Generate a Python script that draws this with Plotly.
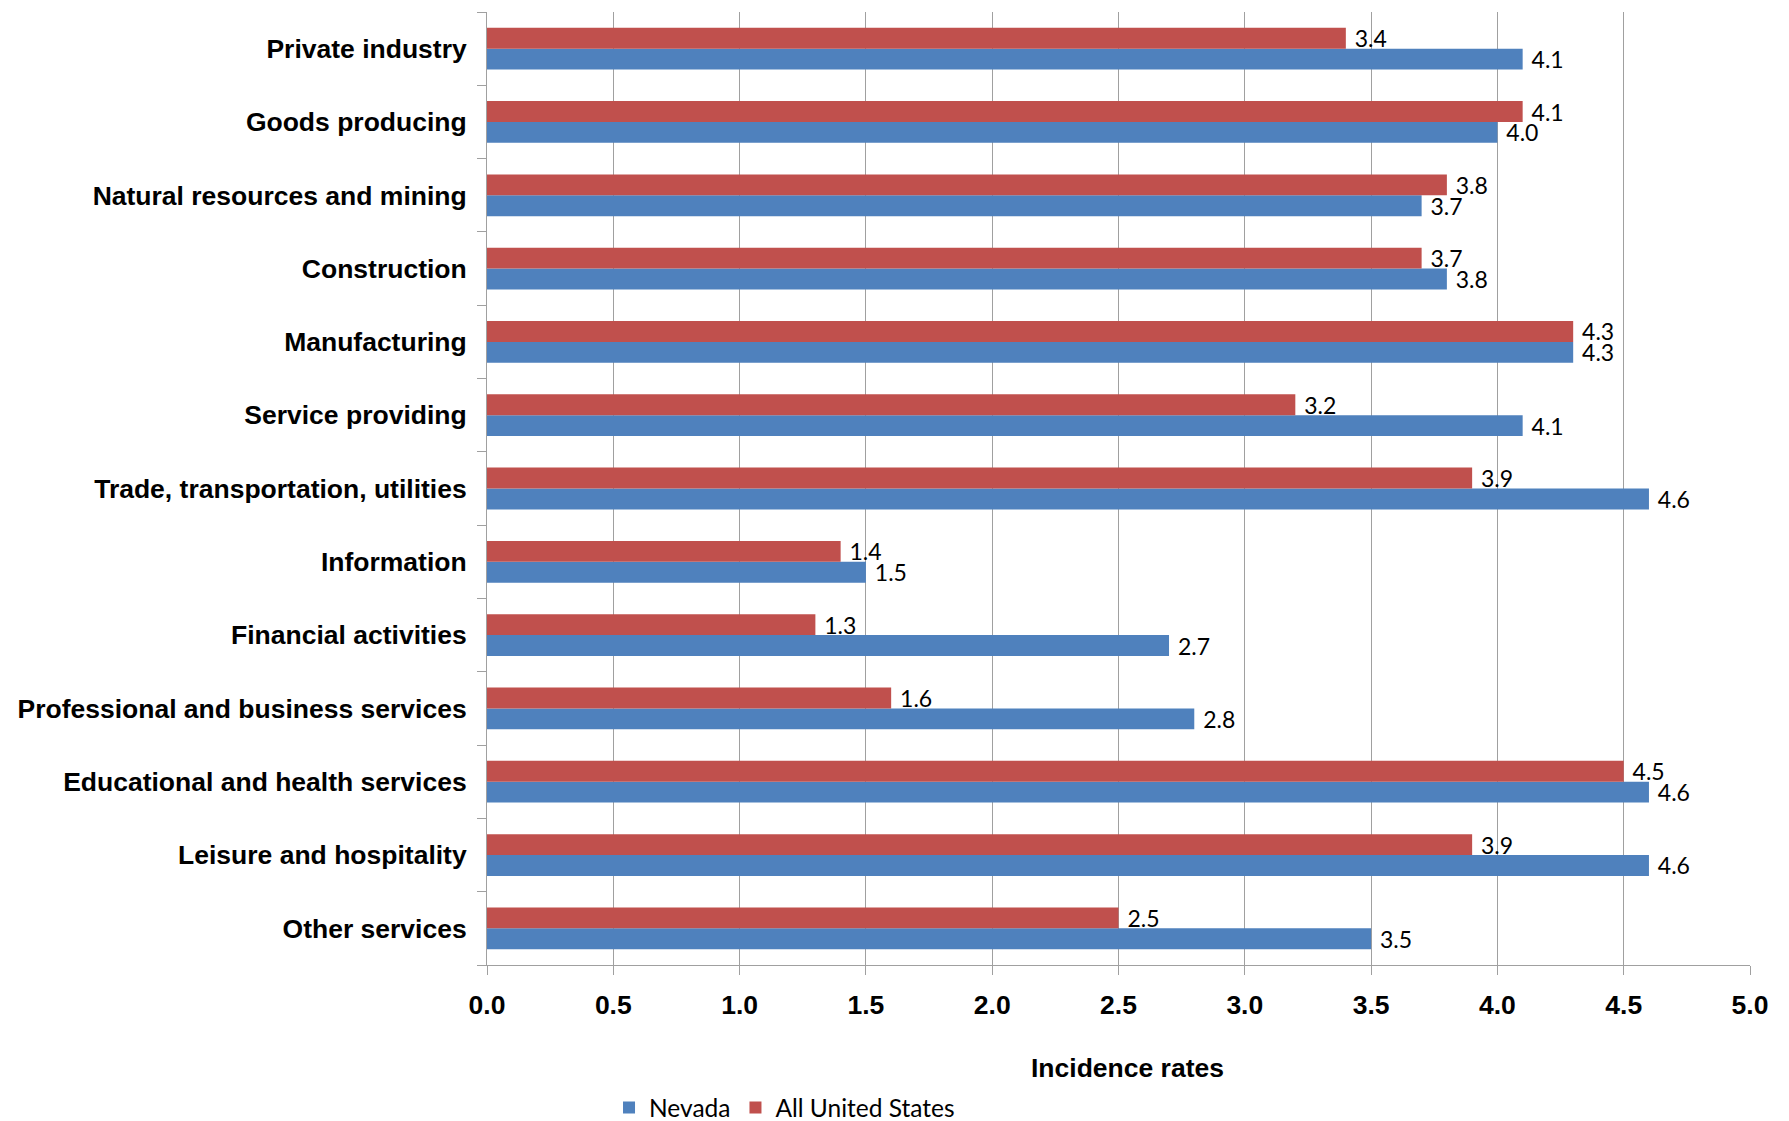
import plotly.graph_objects as go

categories = [
    "Private industry",
    "Goods producing",
    "Natural resources and mining",
    "Construction",
    "Manufacturing",
    "Service providing",
    "Trade, transportation, utilities",
    "Information",
    "Financial activities",
    "Professional and business services",
    "Educational and health services",
    "Leisure and hospitality",
    "Other services",
]
nevada = [4.1, 4.0, 3.7, 3.8, 4.3, 4.1, 4.6, 1.5, 2.7, 2.8, 4.6, 4.6, 3.5]
all_us = [3.4, 4.1, 3.8, 3.7, 4.3, 3.2, 3.9, 1.4, 1.3, 1.6, 4.5, 3.9, 2.5]
x_ticks = [0.0, 0.5, 1.0, 1.5, 2.0, 2.5, 3.0, 3.5, 4.0, 4.5, 5.0]
x_title = "Incidence rates"

BLUE = "#4F81BD"
RED = "#C0504D"
GRID = "#A0A0A0"
LABEL_FONT = dict(family="Lato", size=23, color="#000000")
BOLD_FONT = dict(family="Liberation Sans", size=26.5, color="#000000", weight="bold")

fig = go.Figure()
for name, vals, col in [("Nevada", nevada, BLUE), ("All United States", all_us, RED)]:
    fig.add_trace(go.Bar(
        y=categories, x=vals, name=name, orientation="h",
        marker=dict(color=col, line=dict(width=0)),
        texttemplate="\u00a0%{x:.1f}", textposition="outside",
        textfont=LABEL_FONT, constraintext="none", cliponaxis=False,
    ))

fig.update_layout(
    width=1781, height=1113,
    paper_bgcolor="white", plot_bgcolor="white",
    margin=dict(l=479, r=39, t=4, b=156),
    barmode="group", bargap=0.43, bargroupgap=0,
    showlegend=True,
    legend=dict(orientation="h", xref="container", yref="container",
                x=0.436, y=0.012, xanchor="center", yanchor="middle",
                font=dict(family="Lato", size=24.5, color="#000000"),
                itemwidth=30, tracegroupgap=0),
    xaxis=dict(
        range=[0, 5], tickvals=x_ticks, ticktext=[f"{v:.1f}" for v in x_ticks],
        showgrid=True, gridcolor=GRID, gridwidth=1,
        showline=True, linecolor=GRID, linewidth=1,
        ticks="outside", ticklen=9, tickcolor=GRID,
        tickfont=BOLD_FONT,
        ticklabelstandoff=7,
        zeroline=False,
    ),
    yaxis=dict(
        categoryorder="array", categoryarray=list(reversed(categories)),
        showgrid=False, showline=True, linecolor=GRID, linewidth=1,
        ticks="outside", ticklen=9, tickcolor=GRID, tickson="boundaries",
        tickfont=BOLD_FONT,
        ticklabelstandoff=14,
    ),
    annotations=[dict(
        text=f"<b>{x_title}</b>", xref="paper", yref="paper",
        x=0.507, y=-0.108, xanchor="center", yanchor="middle",
        showarrow=False, font=BOLD_FONT,
    )],
)

fig.write_html("out.html")
